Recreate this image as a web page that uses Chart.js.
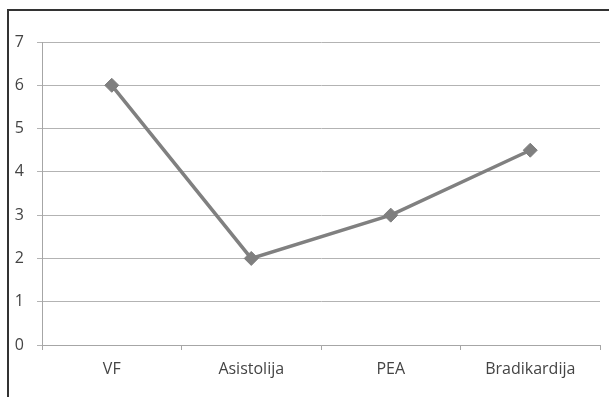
<!DOCTYPE html>
<html>
<head>
<meta charset="utf-8">
<script src="https://cdn.jsdelivr.net/npm/chart.js@4/dist/chart.umd.min.js"></script>
<style>
html,body{margin:0;padding:0;background:#fff;}
#wrap{width:609px;height:397px;position:relative;}
</style>
</head>
<body>
<div id="wrap"><canvas id="c" width="609" height="397"></canvas></div>
<script>
const categories = ["VF", "Asistolija", "PEA", "Bradikardija"];
const values = [6, 2, 3, 4.5];
const yTicks = [0, 1, 2, 3, 4, 5, 6, 7];

const framePlugin = {
  id: 'frame',
  beforeDraw(chart) {
    const ctx = chart.ctx;
    ctx.save();
    ctx.fillStyle = '#fff';
    ctx.fillRect(0, 0, chart.width, chart.height);
    ctx.strokeStyle = '#333';
    ctx.lineWidth = 2;
    ctx.beginPath();
    ctx.moveTo(8, 397);
    ctx.lineTo(8, 10);
    ctx.lineTo(609, 10);
    ctx.stroke();
    ctx.restore();
  }
};

new Chart(document.getElementById('c'), {
  type: 'line',
  data: {
    labels: categories,
    datasets: [{
      data: values,
      borderColor: '#808080',
      backgroundColor: '#808080',
      borderWidth: 3.5,
      pointStyle: 'rectRot',
      pointRadius: 7,
      pointHoverRadius: 7,
      pointBackgroundColor: '#7f7f7f',
      pointBorderColor: '#7f7f7f',
      pointBorderWidth: 1,
      tension: 0,
      fill: false
    }]
  },
  options: {
    responsive: false,
    animation: false,
    events: [],
    layout: { padding: { top: 42, right: 9, left: 0, bottom: 0 } },
    plugins: { legend: { display: false }, tooltip: { enabled: false } },
    scales: {
      x: {
        type: 'category',
        offset: true,
        grid: { offset: true, drawOnChartArea: false, drawTicks: true, tickLength: 5, color: '#a6a6a6', lineWidth: 1 },
        border: { display: true, color: '#a6a6a6', width: 1 },
        ticks: { color: '#444444', font: { family: 'Open Sans', size: 16 }, padding: 10, maxRotation: 0 },
        afterFit(scale) { scale.height = 52; }
      },
      y: {
        min: 0, max: 7,
        afterBuildTicks(scale) { scale.ticks = yTicks.map(v => ({ value: v })); },
        grid: { color: '#b3b3b3', lineWidth: 1, tickLength: 5, drawTicks: true },
        border: { display: true, color: '#a6a6a6', width: 1 },
        ticks: { color: '#444444', font: { family: 'Open Sans', size: 16 }, padding: 13 },
        afterFit(scale) { scale.width = 42; }
      }
    }
  },
  plugins: [framePlugin]
});
</script>
</body>
</html>
